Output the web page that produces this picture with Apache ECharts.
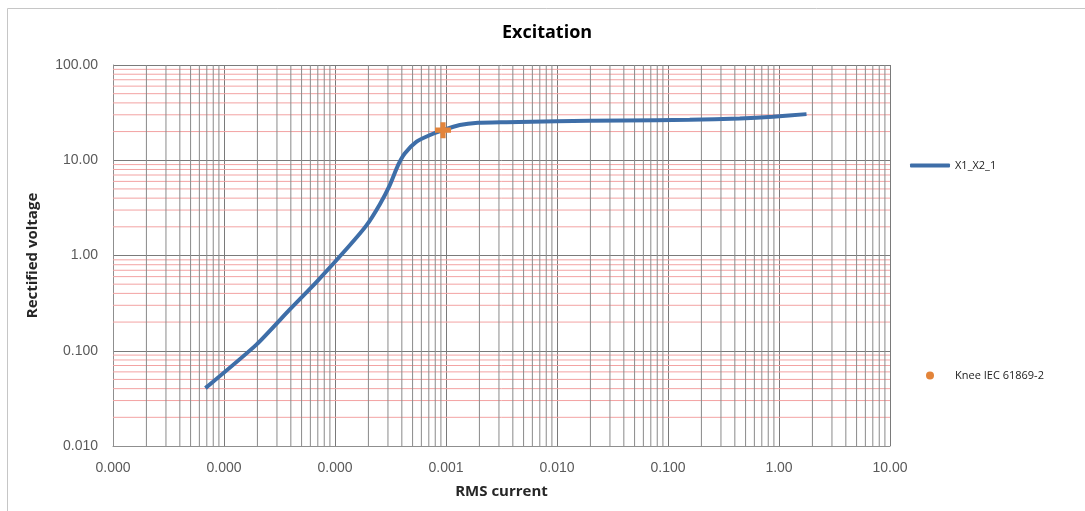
<!DOCTYPE html>
<html>
<head>
<meta charset="utf-8">
<script src="https://cdn.jsdelivr.net/npm/echarts@6/dist/echarts.min.js"></script>
<style>
  html, body { margin: 0; padding: 0; background: #fff; }
  #chart { width: 1085px; height: 511px; }
</style>
</head>
<body>
<div id="chart"></div>
<script>
// excitation curve (log-log)
var currentRms = [6.8e-6, 1.96e-5, 3.9e-5, 6.8e-5, 1.31e-4, 1.92e-4, 2.53e-4, 3.11e-4, 3.7e-4, 4.25e-4,
  5.4e-4, 7.1e-4, 9.4e-4, 1.33e-3, 1.94e-3, 3.5e-3, 9.9e-3, 0.0394, 0.157, 0.443, 0.88, 1.77];
var voltageRect = [0.0405, 0.116, 0.270, 0.526, 1.22, 2.07, 3.44, 5.46, 8.9, 11.8,
  15.6, 18.3, 20.7, 23.4, 24.7, 25.1, 25.7, 26.2, 26.6, 27.5, 28.6, 30.5];
var kneePoint = [9.4e-4, 20.7];

var xDecades = [-6, -5, -4, -3, -2, -1, 0, 1];
var xTickLabels = ["0.000", "0.000", "0.000", "0.001", "0.010", "0.100", "1.00", "10.00"];
var yDecades = [-2, -1, 0, 1, 2];
var yTickLabels = ["0.010", "0.100", "1.00", "10.00", "100.00"];

function labelFor(v, decades, labels) {
  var d = Math.round(Math.log10(v));
  var i = decades.indexOf(d);
  return i >= 0 ? labels[i] : "";
}

var xMin = Math.pow(10, xDecades[0]), xMax = Math.pow(10, xDecades[xDecades.length - 1]);
var yMin = Math.pow(10, yDecades[0]), yMax = Math.pow(10, yDecades[yDecades.length - 1]);

// minor grid lines at 2..9 of every decade, as broken line series
var minorX = [];
for (var i = 0; i < xDecades.length - 1; i++) {
  for (var k = 2; k <= 9; k++) {
    var v = k * Math.pow(10, xDecades[i]);
    minorX.push([v, yMin], [v, yMax], ["-", "-"]);
  }
}
var minorY = [];
for (var j = 0; j < yDecades.length - 1; j++) {
  for (var k2 = 2; k2 <= 9; k2++) {
    var w = k2 * Math.pow(10, yDecades[j]);
    minorY.push([xMin, w], [xMax, w], ["-", "-"]);
  }
}

var lineData = currentRms.map(function (x, i) { return [x, voltageRect[i]]; });

var myChart = echarts.init(document.getElementById("chart"));
var option = {
  backgroundColor: "#fff",
  animation: false,
  textStyle: { fontFamily: "Liberation Sans" },
  graphic: [{
    type: "rect",
    shape: { x: 7.5, y: 8.5, width: 1200, height: 700 },
    style: { fill: "none", stroke: "#c6c6c6", lineWidth: 1 },
    silent: true
  }],
  title: {
    text: "Excitation",
    left: 542,
    top: 19,
    textAlign: "center",
    textStyle: { fontFamily: "Open Sans", fontSize: 18, fontWeight: "bold", color: "#000" }
  },
  legend: [{
    data: [{ name: "X1_X2_1", icon: "roundRect" }],
    left: 905,
    top: 155,
    itemWidth: 40,
    itemHeight: 4,
    textStyle: { fontFamily: "Open Sans", fontSize: 11, color: "#222" }
  }, {
    data: [{ name: "Knee IEC 61869-2", icon: "circle" }],
    left: 921,
    top: 365,
    itemWidth: 8,
    itemHeight: 8,
    textStyle: { fontFamily: "Open Sans", fontSize: 11, color: "#222", padding: [0, 0, 0, 16] }
  }],
  grid: { left: 113, right: 195, top: 65, bottom: 65, containLabel: false },
  xAxis: {
    type: "log",
    logBase: 10,
    min: xMin,
    max: xMax,
    name: "RMS current",
    nameLocation: "middle",
    nameGap: 38,
    nameTextStyle: { fontFamily: "Open Sans", fontSize: 15, fontWeight: "bold", color: "#262626" },
    axisLine: { show: true, lineStyle: { color: "#8f8f8f" } },
    axisTick: { show: false },
    axisLabel: {
      margin: 15,
      fontSize: 14,
      color: "#595959",
      formatter: function (v) { return labelFor(v, xDecades, xTickLabels); }
    },
    splitLine: { show: true, lineStyle: { color: "#7a7a7a", width: 1 } }
  },
  yAxis: {
    type: "log",
    logBase: 10,
    min: yMin,
    max: yMax,
    name: "Rectified voltage",
    nameLocation: "middle",
    nameGap: 73,
    nameTextStyle: { fontFamily: "Open Sans", fontSize: 15, fontWeight: "bold", color: "#262626" },
    axisLine: { show: true, lineStyle: { color: "#8f8f8f" } },
    axisTick: { show: false },
    axisLabel: {
      margin: 15,
      fontSize: 14,
      color: "#595959",
      formatter: function (v) { return labelFor(v, yDecades, yTickLabels); }
    },
    splitLine: { show: true, lineStyle: { color: "#7a7a7a", width: 1 } }
  },
  series: [{
    name: "minorY",
    type: "line",
    data: minorY,
    silent: true,
    symbol: "none",
    connectNulls: false,
    z: 1,
    lineStyle: { color: "#f3a3a3", width: 1 }
  }, {
    name: "minorX",
    type: "line",
    data: minorX,
    silent: true,
    symbol: "none",
    connectNulls: false,
    z: 1,
    lineStyle: { color: "#8a8a8a", width: 1 }
  }, {
    name: "X1_X2_1",
    type: "line",
    data: lineData,
    symbol: "none",
    smooth: 0.2,
    z: 5,
    color: "#3e6ea8",
    lineStyle: { color: "#3e6ea8", width: 4 }
  }, {
    name: "Knee IEC 61869-2",
    type: "scatter",
    data: [kneePoint],
    z: 6,
    symbol: "path://M3.4,0H6.6V3.4H10V6.6H6.6V10H3.4V6.6H0V3.4H3.4Z",
    symbolSize: 16,
    itemStyle: { color: "#e3843a", opacity: 1 }
  }]
};
myChart.setOption(option);
window.addEventListener("resize", function () { myChart.resize(); });
</script>
</body>
</html>
